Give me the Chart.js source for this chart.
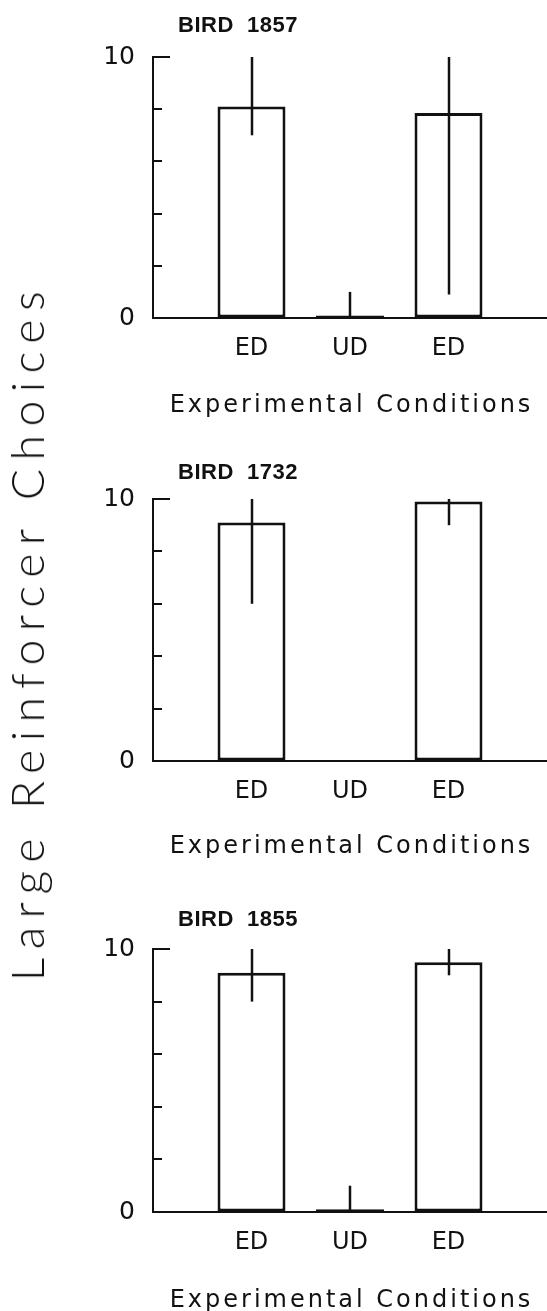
<!DOCTYPE html>
<html>
<head>
<meta charset="utf-8">
<script src="https://cdn.jsdelivr.net/npm/chart.js@4.4.1/dist/chart.umd.min.js"></script>
<style>
  html, body { margin:0; padding:0; background:#fff; width:547px; height:1311px; overflow:hidden; position:relative; }
  canvas { position:absolute; left:0; }
  #ytitle { position:absolute; left:27px; top:632px; transform:translate(-50%,-50%) rotate(-90deg);
            white-space:nowrap; font-family:Lato, "Open Sans", sans-serif; font-weight:300; font-size:46px;
            line-height:46px; color:#111; }
</style>
</head>
<body>
<canvas id="c1" width="547" height="440" style="top:0px"></canvas>
<canvas id="c2" width="547" height="450" style="top:440px"></canvas>
<canvas id="c3" width="547" height="421" style="top:890px"></canvas>
<div id="ytitle">Large Reinforcer Choices</div>
<script>
// ---------- data ----------
const categories = ['', 'ED', 'UD', 'ED', ''];
const yTickLabels = ['0', '5', '10'];
const xTitle = 'Experimental Conditions';
const yTitle = 'Large Reinforcer Choices';

const bird1857Label = 'BIRD  1857';
const bird1857Mean = [null, 8.1, 0.1, 7.85, null];
const bird1857Low  = [null, 7.0, 0.0, 0.9, null];
const bird1857High = [null, 10.0, 1.0, 10.0, null];

const bird1732Label = 'BIRD  1732';
const bird1732Mean = [null, 9.1, 0, 9.9, null];
const bird1732Low  = [null, 6.0, null, 9.0, null];
const bird1732High = [null, 10.0, null, 10.0, null];

const bird1855Label = 'BIRD  1855';
const bird1855Mean = [null, 9.1, 0.1, 9.5, null];
const bird1855Low  = [null, 8.0, 0.0, 9.0, null];
const bird1855High = [null, 10.0, 1.0, 10.0, null];

// ---------- layout (positions, not data) ----------
const panels = [
  { id:'c1', label:bird1857Label, mean:bird1857Mean, low:bird1857Low, high:bird1857High,
    padTop:57, xHeight:122, labelGap:31, titleGap:88 },
  { id:'c2', label:bird1732Label, mean:bird1732Mean, low:bird1732Low, high:bird1732High,
    padTop:59, xHeight:129, labelGap:26, titleGap:86 },
  { id:'c3', label:bird1855Label, mean:bird1855Mean, low:bird1855Low, high:bird1855High,
    padTop:59, xHeight:99, labelGap:29, titleGap:89 }
];

const INK = '#111';

const decor = {
  id: 'decor',
  afterDatasetsDraw(chart, args, opts) {
    const ctx = chart.ctx, xs = chart.scales.x, ys = chart.scales.y, area = chart.chartArea;
    ctx.save();
    ctx.strokeStyle = INK;
    ctx.lineWidth = 2;
    ctx.lineCap = 'butt';
    // inward tick marks
    ys.ticks.forEach(t => {
      const py = Math.round(ys.getPixelForValue(t.value));
      const major = yTickLabels.includes(String(t.value));
      const len = major ? 17 : 9;
      ctx.beginPath();
      ctx.moveTo(area.left, py);
      ctx.lineTo(area.left + len, py);
      ctx.stroke();
    });
    // error bars
    ctx.lineWidth = 2.5;
    opts.low.forEach((lo, i) => {
      const hi = opts.high[i];
      if (lo == null || hi == null) return;
      const px = Math.round(xs.getPixelForValue(i));
      ctx.beginPath();
      ctx.moveTo(px, ys.getPixelForValue(lo));
      ctx.lineTo(px, ys.getPixelForValue(hi));
      ctx.stroke();
    });
    // bird label
    ctx.fillStyle = INK;
    ctx.font = 'bold 22px "Liberation Sans", Arial, sans-serif';
    ctx.letterSpacing = '0.5px';
    ctx.textAlign = 'left';
    ctx.textBaseline = 'middle';
    ctx.fillText(opts.label, 178, area.top - opts.labelGap);
    // x axis title
    ctx.font = '24px "DejaVu Sans", sans-serif';
    ctx.letterSpacing = '3px';
    ctx.textAlign = 'center';
    ctx.fillText(xTitle, (area.left + area.right) / 2 + 1.5, area.bottom + opts.titleGap);
    ctx.restore();
  }
};

panels.forEach(p => {
  new Chart(document.getElementById(p.id), {
    type: 'bar',
    data: {
      labels: categories,
      datasets: [{
        data: p.mean,
        backgroundColor: '#ffffff',
        borderColor: INK,
        borderWidth: 3,
        borderSkipped: false,
        categoryPercentage: 1.0,
        barPercentage: 0.69
      }]
    },
    options: {
      responsive: false,
      animation: false,
      devicePixelRatio: 1,
      layout: { padding: { top: p.padTop, right: 0, bottom: 0, left: 0 } },
      plugins: {
        legend: { display: false },
        tooltip: { enabled: false },
        title: { display: false },
        decor: { label: p.label, low: p.low, high: p.high, labelGap: p.labelGap, titleGap: p.titleGap }
      },
      scales: {
        x: {
          type: 'category',
          offset: false,
          grid: { display: false, drawTicks: false, drawOnChartArea: false },
          border: { display: true, color: INK, width: 2 },
          ticks: { color: INK, font: { family: '"DejaVu Sans", sans-serif', size: 24 }, padding: 16,
                   autoSkip: false, maxRotation: 0, minRotation: 0 },
          afterFit: s => { s.height = p.xHeight; s.paddingLeft = 0; s.paddingRight = 0; }
        },
        y: {
          min: 0, max: 10,
          grid: { display: true, drawTicks: false, drawOnChartArea: false },
          border: { display: true, color: INK, width: 2 },
          ticks: {
            stepSize: 1, color: INK, padding: 18,
            font: { family: '"DejaVu Sans", sans-serif', size: 25 },
            callback: v => (yTickLabels.includes(String(v)) ? String(v) : '')
          },
          afterFit: s => { s.width = 153; s.paddingTop = 0; s.paddingBottom = 0; }
        }
      }
    },
    plugins: [decor]
  });
});

// fit the rotated y title to its span in the reference
(function () {
  const el = document.getElementById('ytitle');
  el.textContent = yTitle;
  const target = 690;
  const natural = el.offsetWidth;
  const n = yTitle.length - 1;
  const s = (target - natural) / n;
  el.style.letterSpacing = s + 'px';
})();
</script>
</body>
</html>
